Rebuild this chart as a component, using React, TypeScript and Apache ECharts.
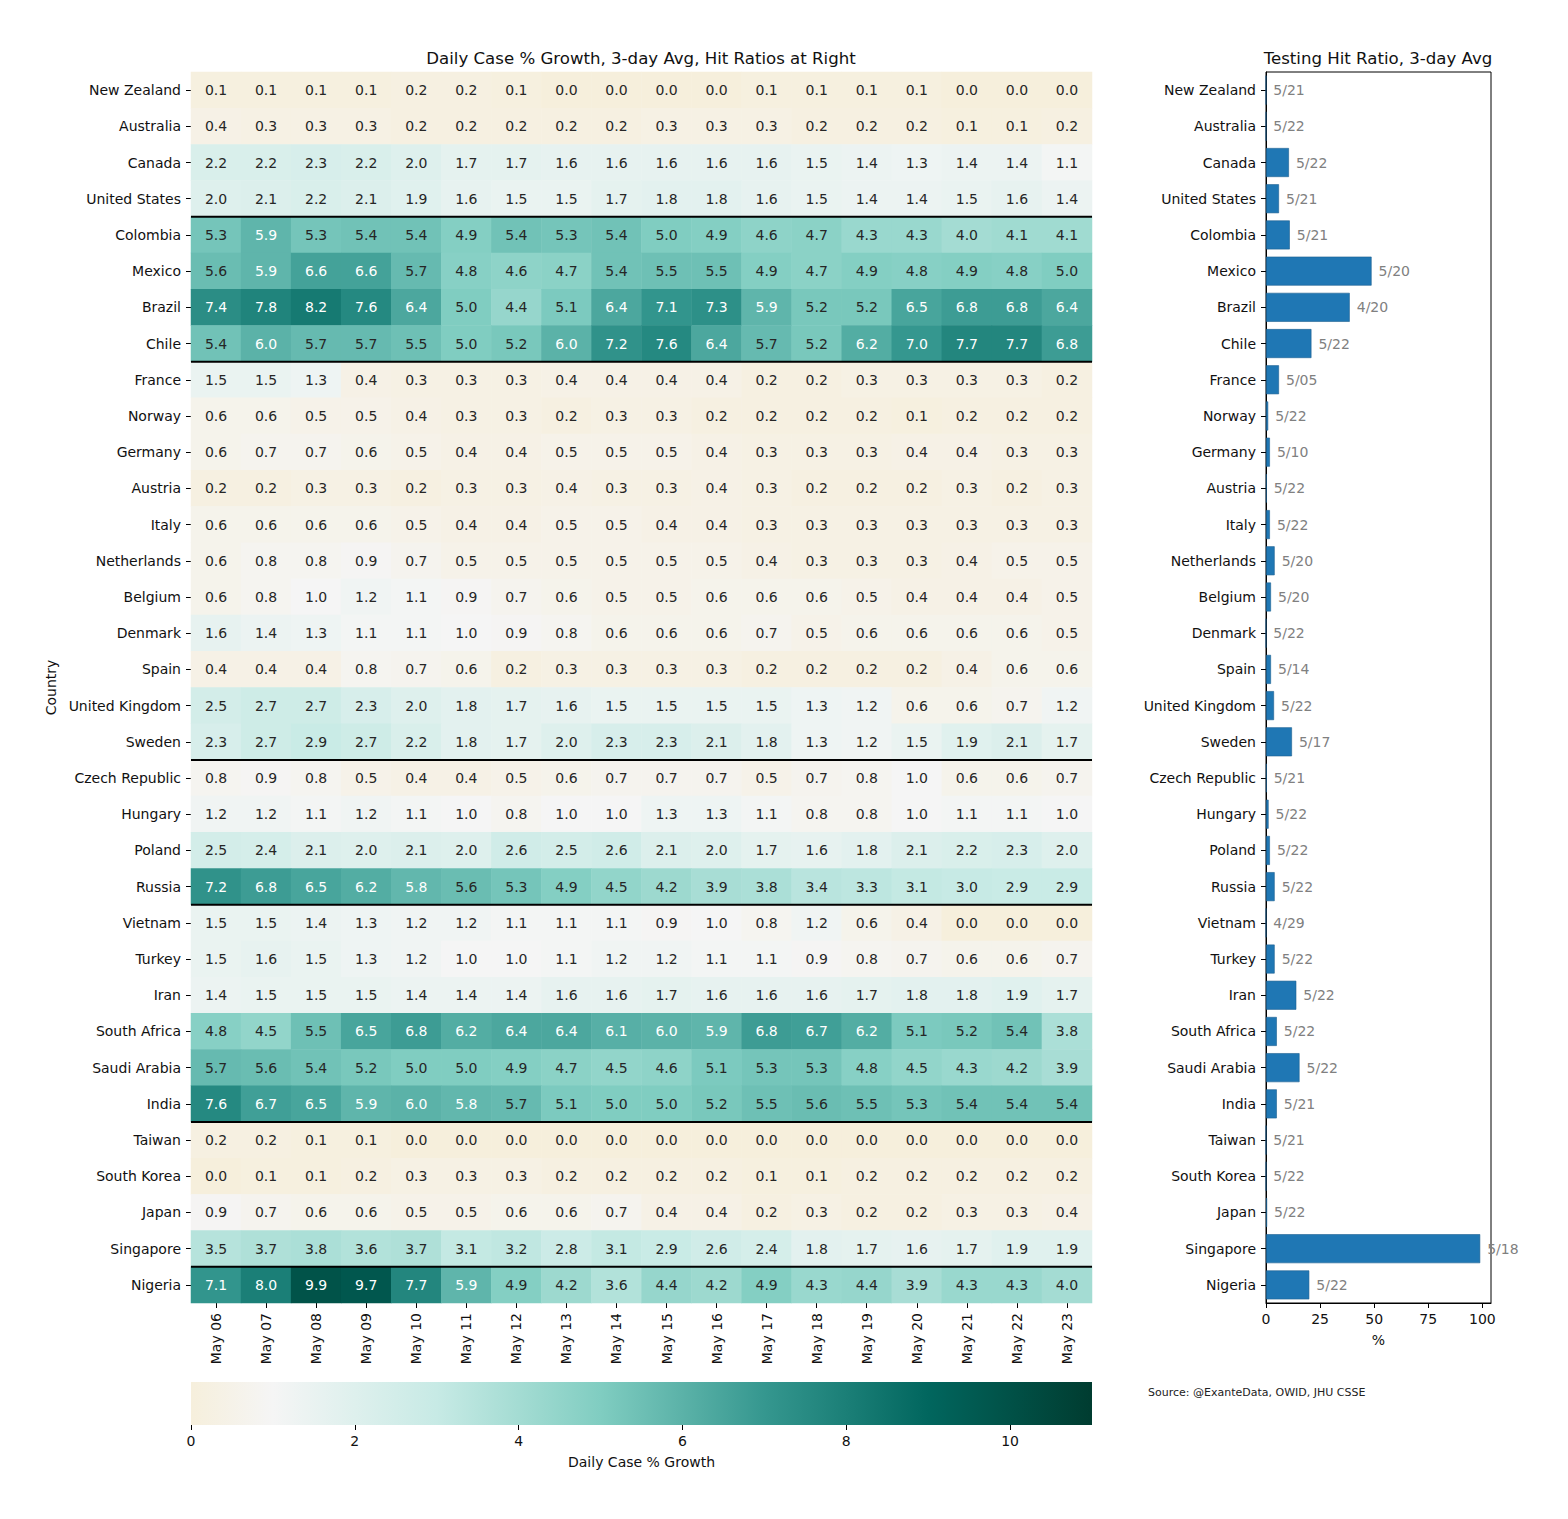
import React, { useEffect, useRef } from 'react';
import * as echarts from 'echarts';

const countries = [
  'New Zealand', 'Australia', 'Canada', 'United States', 'Colombia', 'Mexico', 'Brazil', 'Chile',
  'France', 'Norway', 'Germany', 'Austria', 'Italy', 'Netherlands', 'Belgium', 'Denmark', 'Spain',
  'United Kingdom', 'Sweden', 'Czech Republic', 'Hungary', 'Poland', 'Russia', 'Vietnam', 'Turkey',
  'Iran', 'South Africa', 'Saudi Arabia', 'India', 'Taiwan', 'South Korea', 'Japan', 'Singapore', 'Nigeria',
];

const dates = [
  'May 06', 'May 07', 'May 08', 'May 09', 'May 10', 'May 11', 'May 12', 'May 13', 'May 14',
  'May 15', 'May 16', 'May 17', 'May 18', 'May 19', 'May 20', 'May 21', 'May 22', 'May 23',
];

const growth: number[][] = [
  [0.1, 0.1, 0.1, 0.1, 0.2, 0.2, 0.1, 0.0, 0.0, 0.0, 0.0, 0.1, 0.1, 0.1, 0.1, 0.0, 0.0, 0.0],
  [0.4, 0.3, 0.3, 0.3, 0.2, 0.2, 0.2, 0.2, 0.2, 0.3, 0.3, 0.3, 0.2, 0.2, 0.2, 0.1, 0.1, 0.2],
  [2.2, 2.2, 2.3, 2.2, 2.0, 1.7, 1.7, 1.6, 1.6, 1.6, 1.6, 1.6, 1.5, 1.4, 1.3, 1.4, 1.4, 1.1],
  [2.0, 2.1, 2.2, 2.1, 1.9, 1.6, 1.5, 1.5, 1.7, 1.8, 1.8, 1.6, 1.5, 1.4, 1.4, 1.5, 1.6, 1.4],
  [5.3, 5.9, 5.3, 5.4, 5.4, 4.9, 5.4, 5.3, 5.4, 5.0, 4.9, 4.6, 4.7, 4.3, 4.3, 4.0, 4.1, 4.1],
  [5.6, 5.9, 6.6, 6.6, 5.7, 4.8, 4.6, 4.7, 5.4, 5.5, 5.5, 4.9, 4.7, 4.9, 4.8, 4.9, 4.8, 5.0],
  [7.4, 7.8, 8.2, 7.6, 6.4, 5.0, 4.4, 5.1, 6.4, 7.1, 7.3, 5.9, 5.2, 5.2, 6.5, 6.8, 6.8, 6.4],
  [5.4, 6.0, 5.7, 5.7, 5.5, 5.0, 5.2, 6.0, 7.2, 7.6, 6.4, 5.7, 5.2, 6.2, 7.0, 7.7, 7.7, 6.8],
  [1.5, 1.5, 1.3, 0.4, 0.3, 0.3, 0.3, 0.4, 0.4, 0.4, 0.4, 0.2, 0.2, 0.3, 0.3, 0.3, 0.3, 0.2],
  [0.6, 0.6, 0.5, 0.5, 0.4, 0.3, 0.3, 0.2, 0.3, 0.3, 0.2, 0.2, 0.2, 0.2, 0.1, 0.2, 0.2, 0.2],
  [0.6, 0.7, 0.7, 0.6, 0.5, 0.4, 0.4, 0.5, 0.5, 0.5, 0.4, 0.3, 0.3, 0.3, 0.4, 0.4, 0.3, 0.3],
  [0.2, 0.2, 0.3, 0.3, 0.2, 0.3, 0.3, 0.4, 0.3, 0.3, 0.4, 0.3, 0.2, 0.2, 0.2, 0.3, 0.2, 0.3],
  [0.6, 0.6, 0.6, 0.6, 0.5, 0.4, 0.4, 0.5, 0.5, 0.4, 0.4, 0.3, 0.3, 0.3, 0.3, 0.3, 0.3, 0.3],
  [0.6, 0.8, 0.8, 0.9, 0.7, 0.5, 0.5, 0.5, 0.5, 0.5, 0.5, 0.4, 0.3, 0.3, 0.3, 0.4, 0.5, 0.5],
  [0.6, 0.8, 1.0, 1.2, 1.1, 0.9, 0.7, 0.6, 0.5, 0.5, 0.6, 0.6, 0.6, 0.5, 0.4, 0.4, 0.4, 0.5],
  [1.6, 1.4, 1.3, 1.1, 1.1, 1.0, 0.9, 0.8, 0.6, 0.6, 0.6, 0.7, 0.5, 0.6, 0.6, 0.6, 0.6, 0.5],
  [0.4, 0.4, 0.4, 0.8, 0.7, 0.6, 0.2, 0.3, 0.3, 0.3, 0.3, 0.2, 0.2, 0.2, 0.2, 0.4, 0.6, 0.6],
  [2.5, 2.7, 2.7, 2.3, 2.0, 1.8, 1.7, 1.6, 1.5, 1.5, 1.5, 1.5, 1.3, 1.2, 0.6, 0.6, 0.7, 1.2],
  [2.3, 2.7, 2.9, 2.7, 2.2, 1.8, 1.7, 2.0, 2.3, 2.3, 2.1, 1.8, 1.3, 1.2, 1.5, 1.9, 2.1, 1.7],
  [0.8, 0.9, 0.8, 0.5, 0.4, 0.4, 0.5, 0.6, 0.7, 0.7, 0.7, 0.5, 0.7, 0.8, 1.0, 0.6, 0.6, 0.7],
  [1.2, 1.2, 1.1, 1.2, 1.1, 1.0, 0.8, 1.0, 1.0, 1.3, 1.3, 1.1, 0.8, 0.8, 1.0, 1.1, 1.1, 1.0],
  [2.5, 2.4, 2.1, 2.0, 2.1, 2.0, 2.6, 2.5, 2.6, 2.1, 2.0, 1.7, 1.6, 1.8, 2.1, 2.2, 2.3, 2.0],
  [7.2, 6.8, 6.5, 6.2, 5.8, 5.6, 5.3, 4.9, 4.5, 4.2, 3.9, 3.8, 3.4, 3.3, 3.1, 3.0, 2.9, 2.9],
  [1.5, 1.5, 1.4, 1.3, 1.2, 1.2, 1.1, 1.1, 1.1, 0.9, 1.0, 0.8, 1.2, 0.6, 0.4, 0.0, 0.0, 0.0],
  [1.5, 1.6, 1.5, 1.3, 1.2, 1.0, 1.0, 1.1, 1.2, 1.2, 1.1, 1.1, 0.9, 0.8, 0.7, 0.6, 0.6, 0.7],
  [1.4, 1.5, 1.5, 1.5, 1.4, 1.4, 1.4, 1.6, 1.6, 1.7, 1.6, 1.6, 1.6, 1.7, 1.8, 1.8, 1.9, 1.7],
  [4.8, 4.5, 5.5, 6.5, 6.8, 6.2, 6.4, 6.4, 6.1, 6.0, 5.9, 6.8, 6.7, 6.2, 5.1, 5.2, 5.4, 3.8],
  [5.7, 5.6, 5.4, 5.2, 5.0, 5.0, 4.9, 4.7, 4.5, 4.6, 5.1, 5.3, 5.3, 4.8, 4.5, 4.3, 4.2, 3.9],
  [7.6, 6.7, 6.5, 5.9, 6.0, 5.8, 5.7, 5.1, 5.0, 5.0, 5.2, 5.5, 5.6, 5.5, 5.3, 5.4, 5.4, 5.4],
  [0.2, 0.2, 0.1, 0.1, 0.0, 0.0, 0.0, 0.0, 0.0, 0.0, 0.0, 0.0, 0.0, 0.0, 0.0, 0.0, 0.0, 0.0],
  [0.0, 0.1, 0.1, 0.2, 0.3, 0.3, 0.3, 0.2, 0.2, 0.2, 0.2, 0.1, 0.1, 0.2, 0.2, 0.2, 0.2, 0.2],
  [0.9, 0.7, 0.6, 0.6, 0.5, 0.5, 0.6, 0.6, 0.7, 0.4, 0.4, 0.2, 0.3, 0.2, 0.2, 0.3, 0.3, 0.4],
  [3.5, 3.7, 3.8, 3.6, 3.7, 3.1, 3.2, 2.8, 3.1, 2.9, 2.6, 2.4, 1.8, 1.7, 1.6, 1.7, 1.9, 1.9],
  [7.1, 8.0, 9.9, 9.7, 7.7, 5.9, 4.9, 4.2, 3.6, 4.4, 4.2, 4.9, 4.3, 4.4, 3.9, 4.3, 4.3, 4.0],
];

const hitRatio = [
  0, 0, 10.6, 6, 11, 48.8, 38.7, 21, 6, 1, 1.8, 0.3, 1.8, 4, 2.3, 0, 2.3, 3.7, 12,
  0.3, 1.2, 1.8, 4, 0, 4, 14, 5, 15.5, 5, 0, 0, 0.5, 99, 20,
];

const hitDates = [
  '5/21', '5/22', '5/22', '5/21', '5/21', '5/20', '4/20', '5/22', '5/05', '5/22', '5/10', '5/22',
  '5/22', '5/20', '5/20', '5/22', '5/14', '5/22', '5/17', '5/21', '5/22', '5/22', '5/22', '4/29',
  '5/22', '5/22', '5/22', '5/22', '5/21', '5/21', '5/22', '5/22', '5/18', '5/22',
];

// rows after which a black separator is drawn (0-based)
const separatorsAfter = [3, 7, 18, 22, 28, 32];

const colorMin = 0;
const colorMax = 11;
const cmapColors = [
  '#f6efdc', '#f5f5f5', '#def0ed', '#c7eae5', '#a4dcd3', '#80cdc1',
  '#5bb2a8', '#35978f', '#1b7f77', '#01665e', '#015147', '#003c30',
];

const FONT = 'DejaVu Sans';

function hexToRgb(h: string): number[] {
  const n = parseInt(h.slice(1), 16);
  return [(n >> 16) & 255, (n >> 8) & 255, n & 255];
}

function colorAt(v: number): number[] {
  const t = Math.max(colorMin, Math.min(colorMax, v));
  const i = Math.min(cmapColors.length - 2, Math.floor(t));
  const f = t - i;
  const a = hexToRgb(cmapColors[i]);
  const b = hexToRgb(cmapColors[i + 1]);
  return a.map((c, k) => c + (b[k] - c) * f);
}

function luminance(rgb: number[]): number {
  const lin = (c: number) => {
    const x = c / 255;
    return x <= 0.03928 ? x / 12.92 : Math.pow((x + 0.055) / 1.055, 2.4);
  };
  return 0.2126 * lin(rgb[0]) + 0.7152 * lin(rgb[1]) + 0.0722 * lin(rgb[2]);
}

export default function App() {
  const ref = useRef<HTMLDivElement>(null);

  useEffect(() => {
    if (!ref.current) return;
    const chart = echarts.init(ref.current, undefined, { renderer: 'svg' });

    const heatData: any[] = [];
    growth.forEach((row, r) => {
      row.forEach((v, c) => {
        heatData.push({
          value: [c, r, v],
          label: { color: luminance(colorAt(v)) > 0.408 ? '#262626' : '#ffffff' },
        });
      });
    });

    const tickStyle = { show: true, length: 5, lineStyle: { color: '#000', width: 1 } };
    const labelBase = { fontFamily: FONT, fontSize: 14, color: '#111' };

    const option: any = {
      animation: false,
      backgroundColor: '#fff',
      textStyle: { fontFamily: FONT },
      grid: [
        { left: 191, top: 72, width: 901, height: 1231 },
        { left: 1266, top: 72, width: 225, height: 1231, show: true, borderColor: '#000', borderWidth: 1, backgroundColor: 'transparent' },
        { left: 191, top: 1382, width: 901, height: 43 },
      ],
      xAxis: [
        {
          type: 'category', gridIndex: 0, data: dates, position: 'bottom',
          axisLine: { show: false },
          axisTick: { ...tickStyle, alignWithLabel: true },
          axisLabel: { ...labelBase, rotate: 90, margin: 10, interval: 0 },
          splitLine: { show: false },
        },
        {
          type: 'value', gridIndex: 1, min: 0, max: 104, interval: 25,
          axisLine: { show: true, lineStyle: { color: '#000' } },
          axisTick: tickStyle,
          axisLabel: { ...labelBase, margin: 9, showMaxLabel: false, formatter: (v: number) => (v % 25 === 0 ? String(v) : '') },
          splitLine: { show: false },
          name: '%', nameLocation: 'middle', nameGap: 30,
          nameTextStyle: { fontFamily: FONT, fontSize: 14, color: '#111' },
        },
        {
          type: 'value', gridIndex: 2, min: colorMin, max: colorMax, interval: 2,
          axisLine: { show: false },
          axisTick: tickStyle,
          axisLabel: { ...labelBase, margin: 9, showMaxLabel: false, formatter: (v: number) => (v % 2 === 0 ? String(v) : '') },
          splitLine: { show: false },
          name: 'Daily Case % Growth', nameLocation: 'middle', nameGap: 30,
          nameTextStyle: { fontFamily: FONT, fontSize: 14, color: '#111' },
        },
      ],
      yAxis: [
        {
          type: 'category', gridIndex: 0, data: countries, inverse: true,
          axisLine: { show: false },
          axisTick: { ...tickStyle, alignWithLabel: true },
          axisLabel: { ...labelBase, margin: 10, interval: 0 },
          splitLine: { show: false },
          name: 'Country', nameLocation: 'middle', nameRotate: 90, nameGap: 122,
          nameTextStyle: { fontFamily: FONT, fontSize: 14, color: '#111' },
        },
        {
          type: 'category', gridIndex: 1, data: countries, inverse: true,
          axisLine: { show: true, lineStyle: { color: '#000' } },
          axisTick: { ...tickStyle, alignWithLabel: true },
          axisLabel: { ...labelBase, margin: 10, interval: 0 },
          splitLine: { show: false },
        },
        {
          type: 'value', gridIndex: 2, min: 0, max: 1, show: false,
        },
      ],
      visualMap: {
        type: 'continuous', show: false, seriesIndex: 0, dimension: 2,
        min: colorMin, max: colorMax, inRange: { color: cmapColors },
      },
      series: [
        {
          type: 'heatmap', xAxisIndex: 0, yAxisIndex: 0, data: heatData,
          label: {
            show: true, fontFamily: FONT, fontSize: 14,
            formatter: (p: any) => Number(p.value[2]).toFixed(1),
          },
          emphasis: { disabled: true },
          itemStyle: { borderWidth: 0 },
        },
        {
          type: 'custom', xAxisIndex: 0, yAxisIndex: 0, silent: true, z: 10,
          data: separatorsAfter.map((i) => [0, i]),
          renderItem: (params: any, api: any) => {
            const c = api.coord([0, api.value(1)]);
            const s = api.size([1, 1]);
            const cs = params.coordSys;
            const y = c[1] + s[1] / 2;
            return {
              type: 'line',
              shape: { x1: cs.x, y1: y, x2: cs.x + cs.width, y2: y },
              style: { stroke: '#000', lineWidth: 2 },
            };
          },
        },
        {
          type: 'bar', xAxisIndex: 1, yAxisIndex: 1, data: hitRatio,
          barCategoryGap: '20%',
          itemStyle: { color: '#1f77b4', borderColor: '#1c5f90', borderWidth: 0.6 },
          label: {
            show: true, position: 'right', distance: 7,
            fontFamily: FONT, fontSize: 14, color: '#808080',
            formatter: (p: any) => hitDates[p.dataIndex],
          },
          emphasis: { disabled: true },
        },
        {
          type: 'custom', xAxisIndex: 2, yAxisIndex: 2, silent: true,
          data: [[colorMin, 0]],
          renderItem: (params: any, api: any) => {
            const p0 = api.coord([colorMin, 0]);
            const p1 = api.coord([colorMax, 1]);
            const stops = cmapColors.map((col, i) => ({ offset: i / (cmapColors.length - 1), color: col }));
            return {
              type: 'rect',
              shape: { x: p0[0], y: p1[1], width: p1[0] - p0[0], height: p0[1] - p1[1] },
              style: { fill: new echarts.graphic.LinearGradient(0, 0, 1, 0, stops) },
            };
          },
        },
      ],
      graphic: [
        {
          type: 'text', x: 641, y: 58,
          style: { text: 'Daily Case % Growth, 3-day Avg, Hit Ratios at Right', fontFamily: FONT, fontSize: 16.6, fill: '#111', textAlign: 'center', textVerticalAlign: 'middle' },
        },
        {
          type: 'text', x: 1378, y: 58,
          style: { text: 'Testing Hit Ratio, 3-day Avg', fontFamily: FONT, fontSize: 16.6, fill: '#111', textAlign: 'center', textVerticalAlign: 'middle' },
        },
        {
          type: 'text', x: 1148, y: 1392,
          style: { text: 'Source: @ExanteData, OWID, JHU CSSE', fontFamily: FONT, fontSize: 11, fill: '#222', textAlign: 'left', textVerticalAlign: 'middle' },
        },
      ],
    };

    chart.setOption(option);
    return () => chart.dispose();
  }, []);

  return (
    <div
      ref={ref}
      style={{ position: 'fixed', left: 0, top: 0, width: 1568, height: 1519, background: '#fff' }}
    />
  );
}
